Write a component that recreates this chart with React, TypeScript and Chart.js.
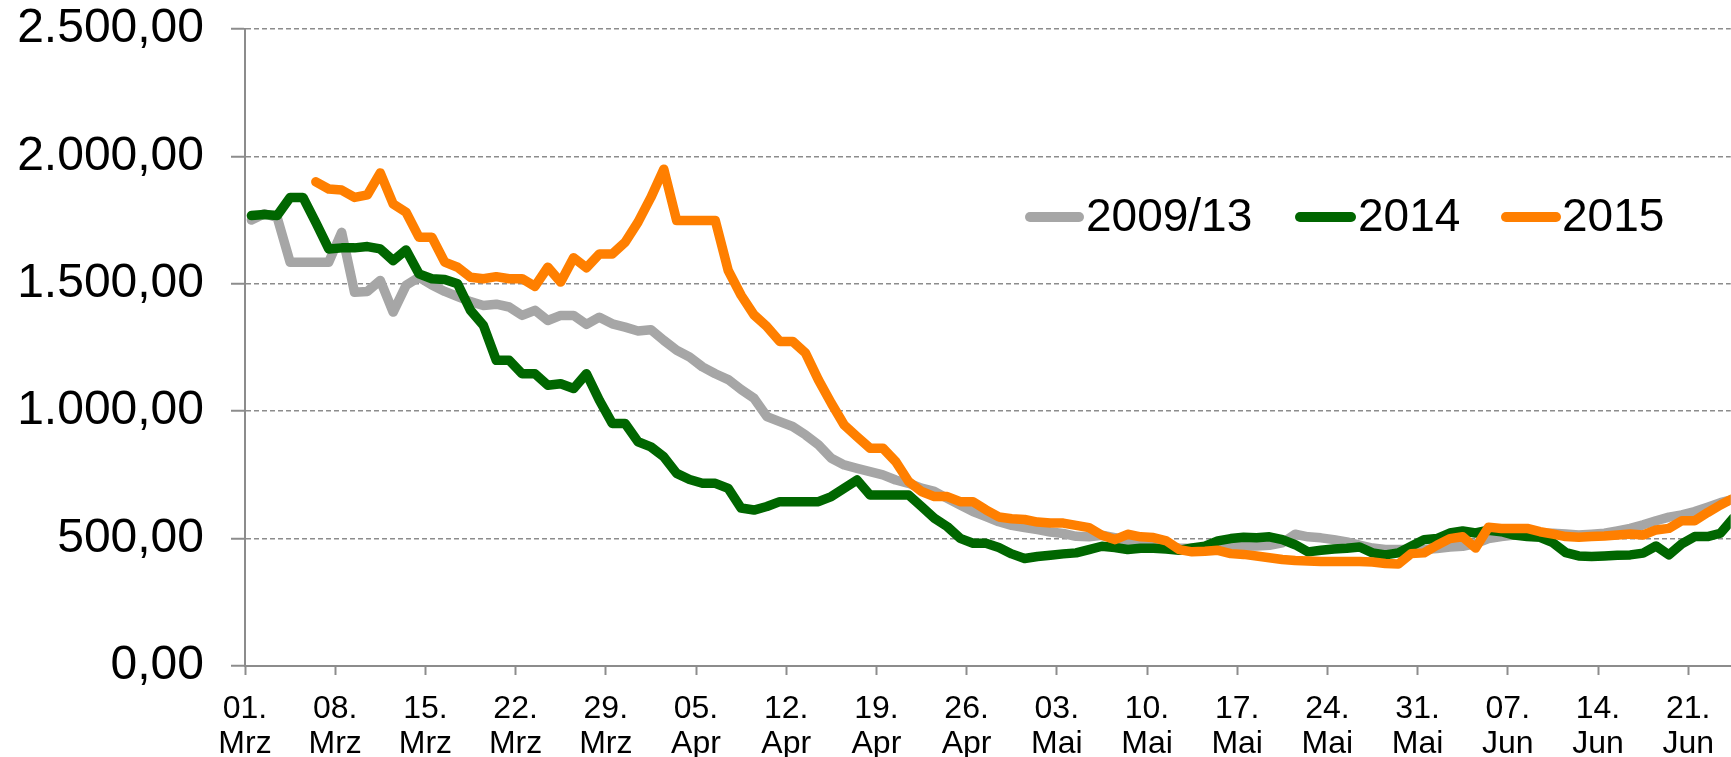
import React, { useEffect, useRef } from "react";
import { Chart, registerables } from "chart.js";

Chart.register(...registerables);

// Tick labels (every 7 days starting 01. Mrz)
const tickDays = ["01.", "08.", "15.", "22.", "29.", "05.", "12.", "19.", "26.", "03.", "10.", "17.", "24.", "31.", "07.", "14.", "21."];
const tickMonths = ["Mrz", "Mrz", "Mrz", "Mrz", "Mrz", "Apr", "Apr", "Apr", "Apr", "Mai", "Mai", "Mai", "Mai", "Mai", "Jun", "Jun", "Jun"];

const seriesLabels = ["2009/13", "2014", "2015"];
const seriesColors = ["#A6A6A6", "#006600", "#FF7F00"];

// Daily values from 01. Mrz (index 0) to 25. Jun (index 115)
const values2009_13 = [
  1750, 1775, 1760, 1585, 1585, 1585, 1585, 1702, 1467, 1470, 1513, 1389, 1494, 1526, 1495, 1470, 1450, 1430, 1415, 1420,
  1409, 1376, 1396, 1356, 1376, 1376, 1341, 1369, 1343, 1330, 1315, 1320, 1278, 1239, 1213, 1174, 1147, 1124, 1085,
  1051, 979, 959, 940, 907, 868, 815, 789, 776, 763, 750, 730, 717, 698, 685, 658, 632, 606, 586,
  566, 552, 543, 535, 526, 520, 509, 507, 513, 504, 487, 474, 470, 467, 463, 461, 461, 467, 470, 470,
  471, 474, 483, 517, 507, 503, 496, 487, 474, 463, 457, 457, 457, 457, 461, 467, 470, 480, 500,
  508, 514, 518, 521, 521, 518, 514, 517, 521, 530, 540, 554, 570, 584, 593, 606, 623, 641, 654,
];

const values2014 = [
  1768, 1772, 1768, 1839, 1839, 1740, 1637, 1641, 1641, 1646, 1637, 1591, 1633, 1539, 1520, 1517, 1500, 1396, 1337, 1200,
  1200, 1147, 1147, 1102, 1108, 1089, 1147, 1043, 952, 952, 880, 860, 821, 756, 732, 717, 717, 697, 620,
  612, 626, 645, 645, 645, 645, 665, 698, 730, 671, 671, 671, 671, 626, 580, 547, 501, 482, 482,
  465, 440, 422, 430, 435, 440, 444, 457, 470, 465, 457, 462, 462, 459, 454, 463, 470, 491, 500, 505,
  503, 507, 496, 476, 448, 454, 459, 462, 467, 444, 436, 444, 470, 496, 500, 522, 530, 522, 533,
  527, 514, 508, 505, 484, 445, 432, 430, 432, 435, 436, 443, 471, 436, 479, 508, 508, 521, 580,
];

const values2015 = [
  null, null, null, null, null,
  1900, 1872, 1868, 1839, 1849, 1935, 1813, 1781, 1683, 1683, 1585, 1565, 1526, 1520, 1528,
  1520, 1520, 1490, 1565, 1507, 1602, 1563, 1617, 1617, 1663, 1742, 1839, 1950, 1748, 1748, 1748, 1748, 1552, 1455,
  1378, 1332, 1274, 1274, 1228, 1123, 1031, 946, 900, 855, 855, 802, 724, 685, 665, 665, 645, 645, 613,
  585, 578, 575, 565, 561, 561, 552, 543, 513, 496, 517, 507, 504, 491, 457, 448, 450, 454, 441, 438,
  432, 425, 418, 414, 412, 410, 410, 410, 410, 408, 402, 400, 441, 444, 474, 500, 507, 463, 545,
  540, 540, 540, 527, 518, 508, 505, 508, 510, 514, 518, 514, 534, 540, 570, 570, 602, 632, 658,
];

const FONT = "'Liberation Sans', Arial, Helvetica, sans-serif";
const AXIS_GREY = "#8c8c8c";

function fmtDe(v: number): string {
  const [ip, dp] = v.toFixed(2).split(".");
  const withSep = ip.replace(/\B(?=(\d{3})+(?!\d))/g, ".");
  return withSep + "," + dp;
}

// Each daily value sits in the middle of its day on the date axis
const toPoints = (arr: (number | null)[]) => arr.map((v, i) => ({ x: i + 0.5, y: v }));

const inlineLegend = {
  id: "inlineLegend",
  afterDraw(chart: any) {
    const ctx = chart.ctx;
    const items = [
      { x1: 1030, x2: 1079, tx: 1086 },
      { x1: 1300, x2: 1351, tx: 1358 },
      { x1: 1506, x2: 1556, tx: 1562 },
    ];
    const y = 217;
    ctx.save();
    chart.data.datasets.forEach((ds: any, i: number) => {
      const it = items[i];
      ctx.beginPath();
      ctx.strokeStyle = ds.borderColor;
      ctx.lineWidth = 10;
      ctx.lineCap = "round";
      ctx.moveTo(it.x1, y);
      ctx.lineTo(it.x2, y);
      ctx.stroke();
      ctx.fillStyle = "#000";
      ctx.font = `46px ${FONT}`;
      ctx.textBaseline = "middle";
      ctx.textAlign = "left";
      ctx.fillText(ds.label, it.tx, y + 1);
    });
    ctx.restore();
  },
};

export default function App() {
  const ref = useRef<HTMLCanvasElement | null>(null);

  useEffect(() => {
    if (!ref.current) return;
    const seriesData = [values2009_13, values2014, values2015];
    const chart = new Chart(ref.current, {
      type: "line",
      data: {
        datasets: seriesData.map((arr, i) => ({
          label: seriesLabels[i],
          data: toPoints(arr),
          borderColor: seriesColors[i],
          backgroundColor: seriesColors[i],
          borderWidth: 9.5,
          borderJoinStyle: "round",
          borderCapStyle: "round",
          pointRadius: 0,
          tension: 0,
          spanGaps: false,
          order: 2 - i,
        })),
      },
      options: {
        animation: false,
        responsive: false,
        maintainAspectRatio: false,
        layout: { padding: { top: 29, left: 0, right: 0, bottom: 0 } },
        plugins: {
          legend: { display: false },
          tooltip: { enabled: false },
        },
        scales: {
          x: {
            type: "linear",
            min: 0,
            max: 115.3,
            afterFit: (scale: any) => {
              scale.height = 91;
            },
            afterBuildTicks: (scale: any) => {
              scale.ticks = tickDays.map((_, i) => ({ value: i * 7 }));
            },
            grid: {
              drawOnChartArea: false,
              drawTicks: true,
              tickLength: 9,
              tickColor: AXIS_GREY,
              tickWidth: 2,
            },
            border: { display: true, color: AXIS_GREY, width: 2 },
            ticks: {
              autoSkip: false,
              maxRotation: 0,
              minRotation: 0,
              padding: 17,
              color: "#000",
              font: { family: FONT, size: 32, lineHeight: 1.08 },
              callback: (value: any) => {
                const idx = Math.round(Number(value) / 7);
                return [tickDays[idx], tickMonths[idx]];
              },
            },
          },
          y: {
            min: 0,
            max: 2500,
            afterFit: (scale: any) => {
              scale.width = 245;
              scale.paddingTop = 0;
              scale.paddingBottom = 0;
            },
            grid: {
              color: AXIS_GREY,
              lineWidth: 1.5,
              drawTicks: true,
              tickLength: 14,
              tickColor: AXIS_GREY,
              tickWidth: 2,
              tickBorderDash: [],
            },
            border: { display: true, color: AXIS_GREY, width: 2, dash: [5, 3] },
            ticks: {
              stepSize: 500,
              padding: 27,
              color: "#000",
              font: { family: FONT, size: 48 },
              callback: (value: any) => fmtDe(Number(value)),
            },
          },
        },
      },
      plugins: [inlineLegend],
    } as any);
    return () => chart.destroy();
  }, []);

  return (
    <div style={{ position: "absolute", left: 0, top: 0, width: 1731, height: 757, background: "#fff" }}>
      <canvas ref={ref} width={1731} height={757} style={{ display: "block" }} />
    </div>
  );
}
